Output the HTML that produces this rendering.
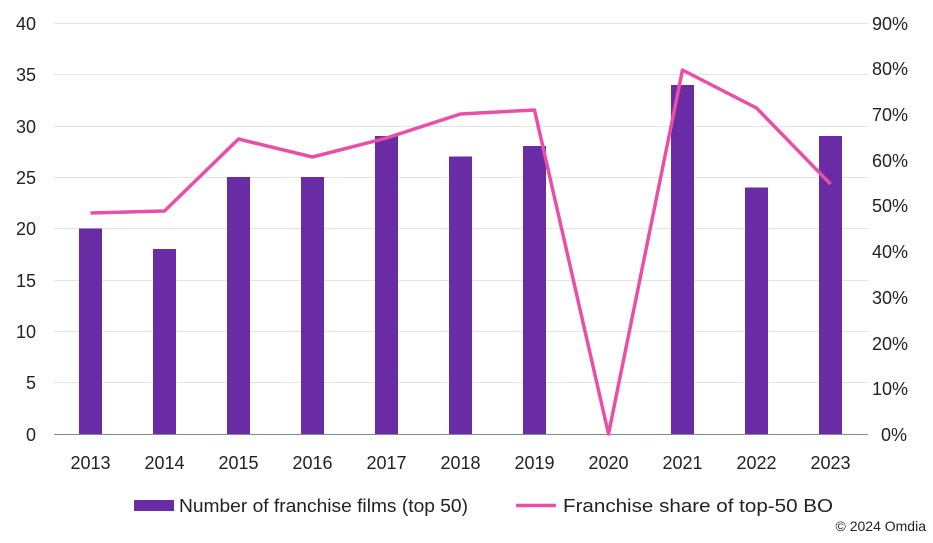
<!DOCTYPE html>
<html><head><style>
body{margin:0;background:#fff;}
svg text{font-family:"Liberation Sans",sans-serif;fill:#222;}
</style></head><body>
<svg width="933" height="538" xmlns="http://www.w3.org/2000/svg">
<g stroke="#e3e3e3" stroke-width="1">
<line x1="54" x2="868" y1="23.5" y2="23.5"/><line x1="54" x2="868" y1="74.5" y2="74.5"/>
<line x1="54" x2="868" y1="126.5" y2="126.5"/><line x1="54" x2="868" y1="177.5" y2="177.5"/>
<line x1="54" x2="868" y1="228.5" y2="228.5"/><line x1="54" x2="868" y1="280.5" y2="280.5"/>
<line x1="54" x2="868" y1="331.5" y2="331.5"/><line x1="54" x2="868" y1="382.5" y2="382.5"/>
</g>
<g fill="#6a2ca4">
<rect x="79" y="228.5" width="23" height="205.5"/>
<rect x="153" y="249" width="23" height="185"/>
<rect x="227" y="177" width="23" height="257"/>
<rect x="301" y="177" width="23" height="257"/>
<rect x="375" y="136" width="23" height="298"/>
<rect x="449" y="156.5" width="23" height="277.5"/>
<rect x="523" y="146" width="23" height="288"/>
<rect x="671" y="85" width="23" height="349"/>
<rect x="745" y="187.5" width="23" height="246.5"/>
<rect x="819" y="136" width="23" height="298"/>
</g>
<line x1="54" x2="868" y1="434.5" y2="434.5" stroke="#7f8a99" stroke-width="1"/>
<polyline fill="none" stroke="#ea4fa8" stroke-width="3.5" stroke-linejoin="round" points="90.5,213 164.5,211 238.5,139 312.5,157 386.5,138 460.5,114 534.5,110 608.5,434 682.5,70 756.5,108 830.5,184"/>
<g font-size="18" text-anchor="end">
<text x="36" y="441">0</text><text x="36" y="389">5</text><text x="36" y="338">10</text>
<text x="36" y="287">15</text><text x="36" y="235">20</text><text x="36" y="184">25</text>
<text x="36" y="133">30</text><text x="36" y="81">35</text><text x="36" y="30">40</text>
</g>
<g font-size="18" text-anchor="start">
<text x="881" y="441">0%</text><text x="872" y="395">10%</text><text x="872" y="350">20%</text>
<text x="872" y="304">30%</text><text x="872" y="258">40%</text><text x="872" y="212">50%</text>
<text x="872" y="167">60%</text><text x="872" y="121">70%</text><text x="872" y="75">80%</text><text x="872" y="30">90%</text>
</g>
<g font-size="18" text-anchor="middle">
<text x="90.5" y="469">2013</text><text x="164.5" y="469">2014</text><text x="238.5" y="469">2015</text>
<text x="312.5" y="469">2016</text><text x="386.5" y="469">2017</text><text x="460.5" y="469">2018</text>
<text x="534.5" y="469">2019</text><text x="608.5" y="469">2020</text><text x="682.5" y="469">2021</text>
<text x="756.5" y="469">2022</text><text x="830.5" y="469">2023</text>
</g>
<rect x="134" y="500" width="40" height="11" fill="#6a2ca4"/>
<text x="179" y="512" font-size="18.5" textLength="289" lengthAdjust="spacingAndGlyphs">Number of franchise films (top 50)</text>
<line x1="516" x2="556" y1="505.5" y2="505.5" stroke="#ea4fa8" stroke-width="3.5"/>
<text x="563" y="512" font-size="18.5" textLength="270" lengthAdjust="spacingAndGlyphs">Franchise share of top-50 BO</text>
<text x="926" y="531" font-size="14" text-anchor="end">© 2024 Omdia</text>
</svg>
</body></html>
